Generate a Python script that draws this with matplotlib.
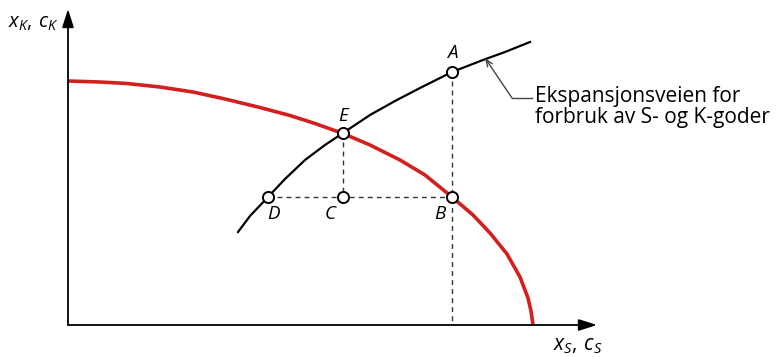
import matplotlib.pyplot as plt

plt.rcParams['font.family'] = ['Open Sans', 'DejaVu Sans']
plt.rcParams['mathtext.fontset'] = 'custom'
plt.rcParams['mathtext.rm'] = 'Open Sans'
plt.rcParams['mathtext.it'] = 'Open Sans:italic'

# production possibility curve (red)
ppf_x = [0, 32, 59, 92, 125, 157, 192, 222, 247, 275, 302, 332, 357, 384,
         405, 422, 439, 452, 460, 463, 465]
ppf_y = [244, 243, 241.5, 238, 233, 226, 217.5, 209.5, 201.5, 191.5, 180, 165,
         150, 128, 110, 92, 71, 48, 27, 14, 0]

# expansion path (black)
exp_x = [170, 182, 200, 217, 237, 257, 275, 302, 327, 352, 384, 415, 437, 462]
exp_y = [93, 109, 128, 146, 165, 180, 192, 210, 224, 237, 253, 265, 273, 283]

point_names = ['E', 'A', 'B', 'C', 'D']
point_x = [275, 384, 384, 275, 200]
point_y = [192, 253, 128, 128, 128]

fig = plt.figure(figsize=(7.82, 3.57), dpi=100)
ax = fig.add_axes([0, 0, 1, 1])
ax.set_xlim(-68, 714)
ax.set_ylim(-32, 325)
ax.axis('off')

# axes with arrows
ax.annotate('', xy=(0, 316), xytext=(0, 0),
            arrowprops=dict(arrowstyle='-|>,head_length=1.1,head_width=0.35',
                            color='black', lw=1.3, shrinkA=0, shrinkB=0))
ax.annotate('', xy=(529, 0), xytext=(0, 0),
            arrowprops=dict(arrowstyle='-|>,head_length=1.1,head_width=0.35',
                            color='black', lw=1.3, shrinkA=0, shrinkB=0))
ax.text(-60, 302, r'$x_K,\,c_K$', fontsize=14.5, va='center', ha='left')
ax.text(485, -21, r'$x_S,\,c_S$', fontsize=15, va='center', ha='left')

# dashed guides
pts = dict(zip(point_names, zip(point_x, point_y)))
dash = dict(color='#333333', lw=1.0, dashes=(3.5, 3), zorder=1)
ax.plot([pts['E'][0], pts['C'][0]], [pts['E'][1], pts['C'][1]], **dash)
ax.plot([pts['D'][0], pts['B'][0]], [pts['D'][1], pts['B'][1]], **dash)
ax.plot([pts['A'][0], pts['A'][0]], [pts['A'][1], 0], **dash)

ax.plot(ppf_x, ppf_y, color='#d41f1f', lw=2.6, solid_capstyle='butt',
        solid_joinstyle='round', zorder=2)
ax.plot(exp_x, exp_y, color='black', lw=1.6, solid_joinstyle='round', zorder=3)

ax.plot(point_x, point_y, 'o', ms=8, mfc='white', mec='black', mew=1.4, zorder=4)

label_off = {'E': (0, 17), 'A': (0, 19), 'B': (-12, -17), 'C': (-13, -17), 'D': (5, -17)}
for n in point_names:
    dx, dy = label_off[n]
    ax.text(pts[n][0] + dx, pts[n][1] + dy, n, fontsize=13.5, style='italic',
            ha='center', va='center')

# pointer to the expansion path
ax.annotate('', xy=(417, 267), xytext=(444, 227),
            arrowprops=dict(arrowstyle='->,head_length=0.5,head_width=0.2',
                            color='#444444', lw=1.0, shrinkA=0, shrinkB=0))
ax.plot([444, 464], [227, 227], color='#444444', lw=1.0)
ax.text(467, 218, 'Ekspansjonsveien for\nforbruk av S- og K-goder',
        fontsize=15, ha='left', va='center', linespacing=0.95)

fig.savefig('out.png', dpi=100)
